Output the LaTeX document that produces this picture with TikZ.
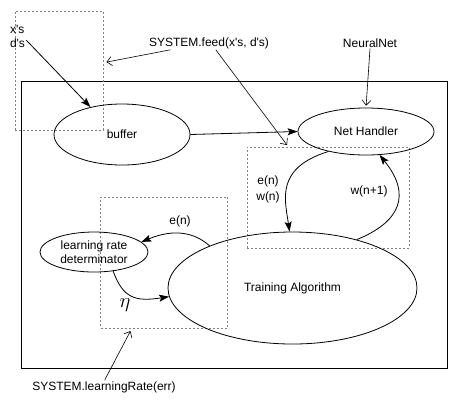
\documentclass[tikz,border=0pt]{standalone}
\usepackage{fontspec}
\setmainfont{Liberation Sans}
\usetikzlibrary{shapes.geometric,arrows.meta}

\begin{document}
\begin{tikzpicture}[x=1bp,y=-1bp,
		font=\fontsize{12bp}{14bp}\selectfont,
		every node/.style={inner sep=1bp},
		blase/.style={draw,ellipse,line width=0.8bp,inner sep=0pt},
		punktbox/.style={draw=gray,dash pattern=on 2bp off 2bp,line width=0.8bp,inner sep=0pt},
		pfeil/.style={-{Stealth[length=10bp,width=7bp,inset=2bp]},line width=0.8bp},
		offen/.style={-{Straight Barb[length=5bp,width=9bp]},line width=0.6bp}]

			\useasboundingbox (0,0) rectangle (457,402);

			% Rahmen des Systems
			\draw[line width=0.8bp] (21,81) rectangle (447,368);

			% gestrichelte Bereiche
			\node[punktbox,minimum width=88bp,minimum height=119bp] (eingabe) at (59,70.5) {};
			\node[punktbox,minimum width=162bp,minimum height=101bp] (netzbox) at (328,197.5) {};
			\node[punktbox,minimum width=127bp,minimum height=131bp] (ratebox) at (164,262.5) {};

			% Ellipsen
			\node[blase,minimum width=136bp,minimum height=61bp] (puffer) at (122,134.5) {buffer};
			\node[blase,minimum width=136bp,minimum height=47bp] (netz) at (366,131.5) {Net Handler};
			\node[blase,minimum width=249bp,minimum height=112bp] (training) at (292.5,288) {Training Algorithm};
			\node[blase,minimum width=108bp,minimum height=40bp,align=center] (lernrate) at (94,252) {learning rate\\determinator};

			% Texte ausserhalb
			\node[align=left] (xd) at (17.5,36) {x\textquotesingle s\\d\textquotesingle s};
			\node (feed) at (209,43) {SYSTEM.feed(x\textquotesingle s, d\textquotesingle s)};
			\node (neuralnet) at (370,43) {NeuralNet};
			\node (lrate) at (104,387) {SYSTEM.learningRate(err)};

			% Beschriftungen der Pfeile
			\node[align=center] (lblew) at (268,189) {e(n)\\[2bp]w(n)};
			\node (lblw) at (369,191) {w(n+1)};
			\node (lble) at (180,221) {e(n)};
			\node (lbleta) at (125,305) {\fontsize{21bp}{21bp}\selectfont$\eta$};

			% gerade Pfeile
			\draw[pfeil] (xd.335) -- (puffer.139);
			\draw[pfeil] (puffer.east) -- (netz.west);
			\draw[offen,shorten >=3bp] (feed.190) -- (eingabe.10);
			\draw[offen,shorten >=2bp] (feed.315) -- (netzbox.128);
			\draw[offen,shorten >=2bp] (neuralnet.south) -- (netz.north);
			\draw[offen,shorten >=3bp] (lrate.85) -- (ratebox.244);

			% geschwungene Pfeile
			\draw[pfeil] (netz.208) .. controls (275,168) and (285,200) .. (training.93);
			\draw[pfeil] (training.37) .. controls (400,222) and (412,195) .. (netz.300);
			\draw[pfeil] (training.153) .. controls (195,233) and (175,228) .. (lernrate.12);
			\draw[pfeil] (lernrate.315) .. controls (123,298) and (135,302) .. (training.184);
		\end{tikzpicture}
\end{document}
